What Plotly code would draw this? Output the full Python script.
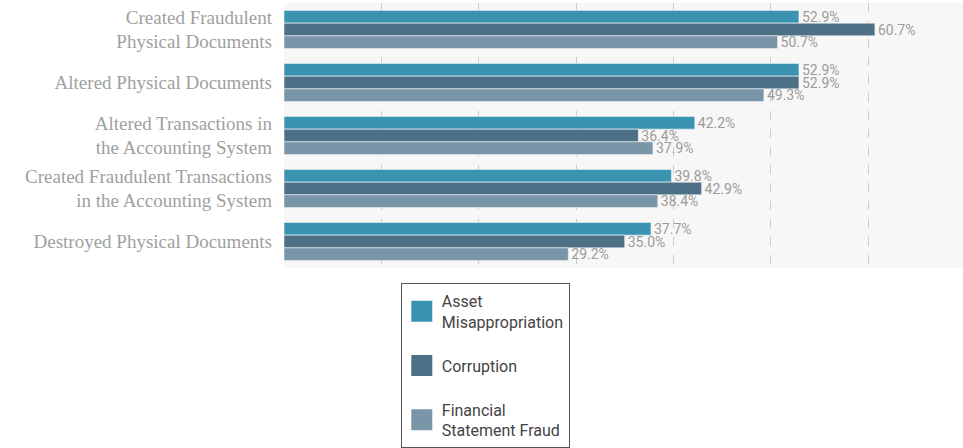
import plotly.graph_objects as go

categories = [
    "Created Fraudulent<br>Physical Documents",
    "Altered Physical Documents",
    "Altered Transactions in<br>the Accounting System",
    "Created Fraudulent Transactions<br>in the Accounting System",
    "Destroyed Physical Documents",
]
asset_misappropriation = [52.9, 52.9, 42.2, 39.8, 37.7]
corruption = [60.7, 52.9, 36.4, 42.9, 35.0]
financial_statement_fraud = [50.7, 49.3, 37.9, 38.4, 29.2]

series_names = ["Asset<br>Misappropriation", "Corruption", "Financial<br>Statement Fraud"]
series_values = [asset_misappropriation, corruption, financial_statement_fraud]
colors = ["#3a93b1", "#4d7087", "#7b95a8"]

fig = go.Figure()
for name, vals, col in zip(series_names, series_values, colors):
    fig.add_trace(go.Bar(
        y=categories, x=vals, orientation="h", name=name,
        marker=dict(color=col, line=dict(color="#eef3f6", width=0.6)),
        text=[f"{v:.1f}%" for v in vals], textposition="outside",
        constraintext="none",
        textfont=dict(family="Roboto, sans-serif", size=14, color="#9c9c9c"),
        cliponaxis=False, showlegend=False,
    ))
# legend entries
for i, (name, col) in enumerate(zip(series_names, colors)):
    fig.add_trace(go.Scatter(
        x=[None], y=[None], mode="markers", name=name, legendgroup=f"g{i}",
        marker=dict(symbol="square", size=16, color=col, line=dict(color=col, width=6)),
        showlegend=True,
    ))

fig.update_layout(
    width=963, height=448,
    margin=dict(l=284, r=0, t=3, b=180, autoexpand=False),
    paper_bgcolor="white", plot_bgcolor="#f7f7f7",
    barmode="group", bargap=0.28, bargroupgap=0,
    xaxis=dict(range=[0, 69.75], dtick=10, showticklabels=False, showgrid=True,
               gridcolor="#cccccc", griddash="dash", gridwidth=1, zeroline=False,
               showline=False, ticks=""),
    yaxis=dict(autorange="reversed", showgrid=False, ticks="", ticklabelstandoff=11,
               automargin=False,
               tickfont=dict(family="Liberation Serif, serif", size=19, color="#a0a0a0"),
               showline=False, zeroline=False),
    legend=dict(x=0.172, xanchor="left", y=-0.0566, yanchor="top",
                xref="paper", yref="paper",
                bgcolor="white", bordercolor="#555555", borderwidth=1,
                font=dict(family="Roboto, sans-serif", size=16, color="#444444"),
                tracegroupgap=20, itemwidth=30),
    showlegend=True,
)
fig.write_html("out.html", config={"displayModeBar": False},
               post_script="document.body.style.margin='0';")
